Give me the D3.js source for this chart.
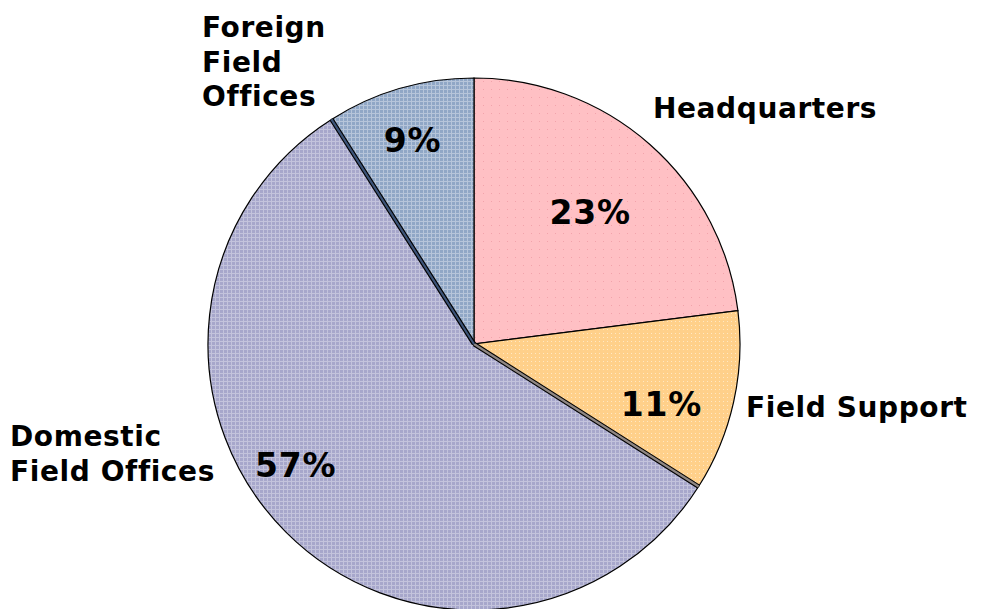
<!DOCTYPE html>
<html>
<head>
<meta charset="utf-8">
<script src="https://cdn.jsdelivr.net/npm/d3@7"></script>
<style>
  body { margin: 0; background: #fff; }
  text { font-family: "DejaVu Sans", Verdana, sans-serif; font-weight: bold; fill: #000; }
</style>
</head>
<body>
<div id="chart"></div>
<script>
// data, clockwise from 12 o'clock
const categories = ["Headquarters", "Field Support", "Domestic Field Offices", "Foreign Field Offices"];
const shares = [23, 11, 57, 9];
const labelLines = [["Headquarters"], ["Field Support"], ["Domestic", "Field Offices"], ["Foreign", "Field", "Offices"]];

const width = 986, height = 609;
const cx = 474, cy = 344, radius = 266;

// fill + texture per slice
const fills = [
  { base: "#ffc0c4", dot: "#f2a3ab", size: 8, kind: "dot" },
  { base: "#ffd08a", dot: "#ffe8c4", size: 4, kind: "dot" },
  { base: "#a7a7cb", dot: "#c3c3dc", size: 4, kind: "grid" },
  { base: "#90a7c6", dot: "#b6c5da", size: 4, kind: "grid" }
];

const svg = d3.select("#chart").append("svg")
  .attr("width", width)
  .attr("height", height);

const defs = svg.append("defs");
fills.forEach((f, i) => {
  const p = defs.append("pattern")
    .attr("id", "pat" + i)
    .attr("patternUnits", "userSpaceOnUse")
    .attr("width", f.size).attr("height", f.size);
  p.append("rect").attr("width", f.size).attr("height", f.size).attr("fill", f.base);
  if (f.kind == "dot") {
    p.append("rect").attr("x", 1).attr("y", 1).attr("width", 1).attr("height", 1).attr("fill", f.dot);
  } else {
    p.append("rect").attr("x", 0).attr("y", 1).attr("width", f.size).attr("height", 1).attr("fill", f.dot);
    p.append("rect").attr("x", 1).attr("y", 0).attr("width", 1).attr("height", f.size).attr("fill", f.dot);
  }
});

const pie = d3.pie().sort(null).value(d => d);
const arcs = pie(shares);
const arc = d3.arc().innerRadius(0).outerRadius(radius);

const g = svg.append("g").attr("transform", `translate(${cx},${cy})`);

g.selectAll("path.slice")
  .data(arcs)
  .enter().append("path")
  .attr("class", "slice")
  .attr("d", arc)
  .attr("fill", (d, i) => `url(#pat${i})`)
  .attr("stroke", "#000")
  .attr("stroke-width", 1.2);

// thin shadowed edges on the lower slice boundaries
const edgeColors = { 2: "#8f8784", 3: "#3d5478" };
Object.keys(edgeColors).forEach(k => {
  const a = arcs[k].startAngle;
  const x2 = Math.sin(a) * radius, y2 = -Math.cos(a) * radius;
  g.append("line").attr("x1", 0).attr("y1", 0).attr("x2", x2).attr("y2", y2)
    .attr("stroke", "#000").attr("stroke-width", 4.5);
  g.append("line").attr("x1", 0).attr("y1", 0).attr("x2", x2).attr("y2", y2)
    .attr("stroke", edgeColors[k]).attr("stroke-width", 2.2);
});

// percent labels: radius factor and angle nudge per slice
const pctPlace = [
  { r: 0.66, da: 0 },
  { r: 0.74, da: 0.09 },
  { r: 0.81, da: 0.19 },
  { r: 0.80, da: -0.01 }
];
g.selectAll("text.pct")
  .data(arcs)
  .enter().append("text")
  .attr("class", "pct")
  .attr("text-anchor", "middle")
  .attr("dy", "0.36em")
  .attr("font-size", 33)
  .attr("letter-spacing", 0.8)
  .attr("transform", (d, i) => {
    const a = (d.startAngle + d.endAngle) / 2 + pctPlace[i].da;
    const rr = radius * pctPlace[i].r;
    return `translate(${Math.sin(a) * rr},${-Math.cos(a) * rr})`;
  })
  .text(d => d.data + "%");

// category labels outside the pie
const catPlace = [
  { x: 653, y: 118 },
  { x: 746, y: 417 },
  { x: 10, y: 446 },
  { x: 202, y: 37 }
];
const lineH = 34.5;
svg.selectAll("text.cat")
  .data(labelLines)
  .enter().append("text")
  .attr("class", "cat")
  .attr("font-size", 28)
  .attr("letter-spacing", 0.6)
  .attr("x", (d, i) => catPlace[i].x)
  .attr("y", (d, i) => catPlace[i].y)
  .each(function(lines, i) {
    d3.select(this).selectAll("tspan")
      .data(lines)
      .enter().append("tspan")
      .attr("x", catPlace[i].x)
      .attr("dy", (l, j) => j == 0 ? 0 : lineH)
      .text(l => l);
  });
</script>
</body>
</html>
